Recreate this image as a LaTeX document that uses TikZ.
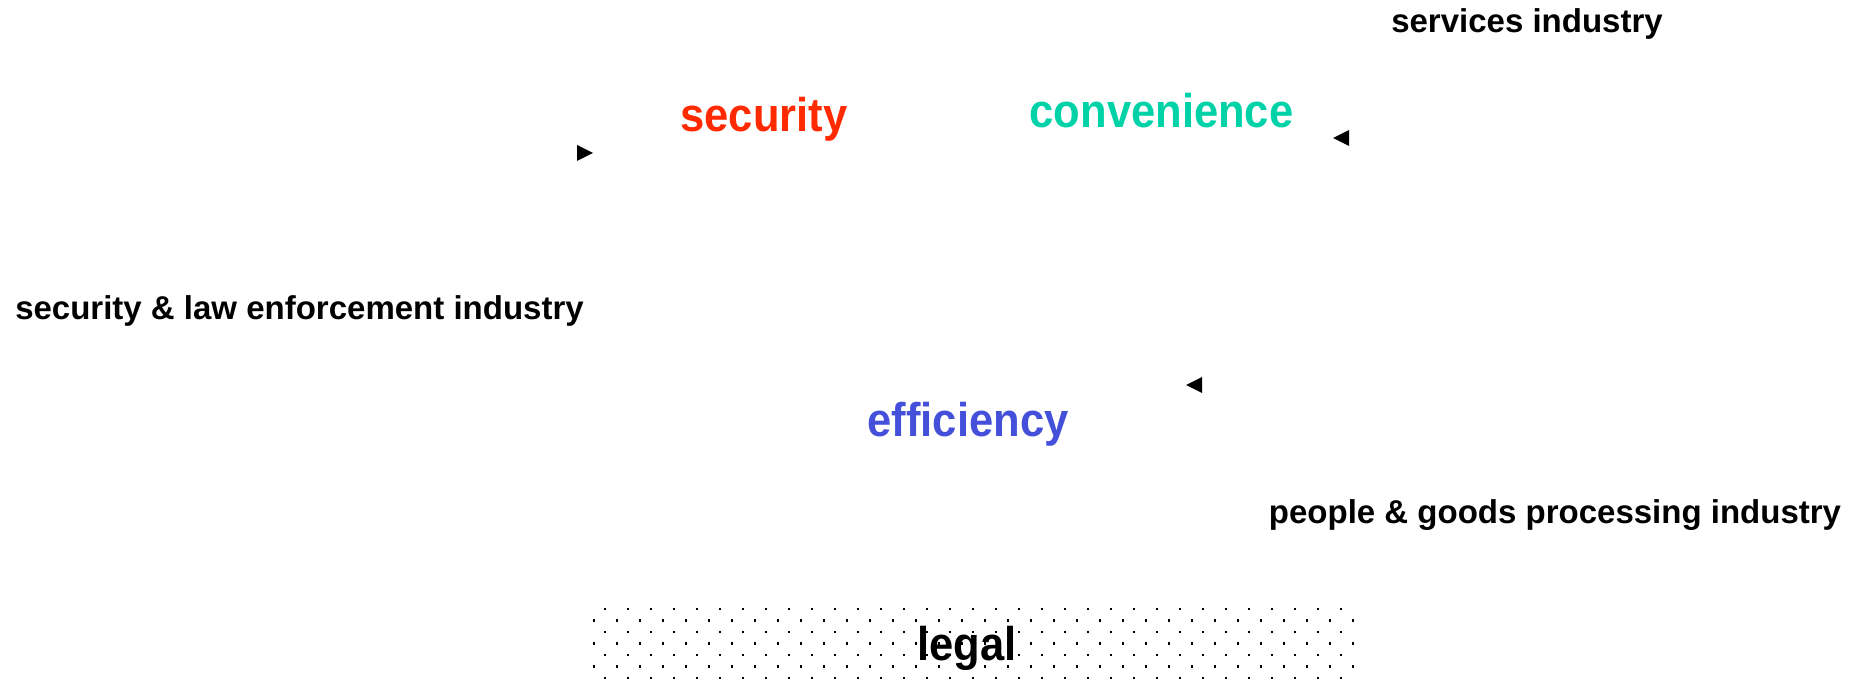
\documentclass[tikz,border=0pt]{standalone}
\usepackage{fontspec}
\setmainfont{Liberation Sans}
\newfontfamily\condfont[FakeStretch=0.92]{Liberation Sans}
\begin{document}
\definecolor{secred}{RGB}{255,42,0}
\definecolor{convteal}{RGB}{0,210,168}
\definecolor{effblue}{RGB}{68,80,218}
\begin{tikzpicture}[x=0.75pt,y=-0.75pt,
  industry/.style={anchor=base,inner sep=0pt,font=\fontsize{24.75}{30}\selectfont\bfseries},
  goal/.style={anchor=base,inner sep=0pt,font=\condfont\fontsize{35.5}{42}\selectfont\bfseries},
  tipfill/.style={fill=black}]
\useasboundingbox (0,0) rectangle (1856,680);

% dotted band behind the "legal" label
\node[inner sep=0pt,minimum width=763*0.75pt,minimum height=74*0.75pt,anchor=north west] (legalbox) at (592,606) {};
\foreach \k in {0,...,6}{
  \pgfmathsetmacro{\yy}{609+11.5*\k}
  \pgfmathsetmacro{\xo}{ifthenelse(mod(\k,2)==0,605,594)}
  \foreach \j in {0,...,33}{
    \pgfmathsetmacro{\xx}{\xo+23*\j}
    \pgfmathparse{\xx<1356 ? 1 : 0}
    \ifnum\pgfmathresult=1
      \fill (\xx-1.2,\yy-1.2) rectangle (\xx+1.2,\yy+1.2);
    \fi
  }
}

% goal words
\node[goal,text=secred]   (security)    at (764,132)  {security};
\node[goal,text=convteal] (convenience) at (1161.5,128) {convenience};
\node[goal,text=effblue]  (efficiency)  at (968,437)  {efficiency};
\node[goal,text=black]    (legal)       at (967,660)  {legal};

% industries
\node[industry] (services) at (1527,33)  {services industry};
\node[industry] (lawenf)   at (299.5,320) {security \& law enforcement industry};
\node[industry] (people)   at (1555,523) {people \& goods processing industry};

% arrow tips
\coordinate (tipA) at (593,153);
\coordinate (tipB) at (1333,138);
\coordinate (tipC) at (1186,385);
\fill[tipfill] (tipA) -- ++(-16,-8) -- ++(0,16) -- cycle;
\fill[tipfill] (tipB) -- ++(16,-8) -- ++(0,16) -- cycle;
\fill[tipfill] (tipC) -- ++(16,-8) -- ++(0,16) -- cycle;
\end{tikzpicture}
\end{document}
